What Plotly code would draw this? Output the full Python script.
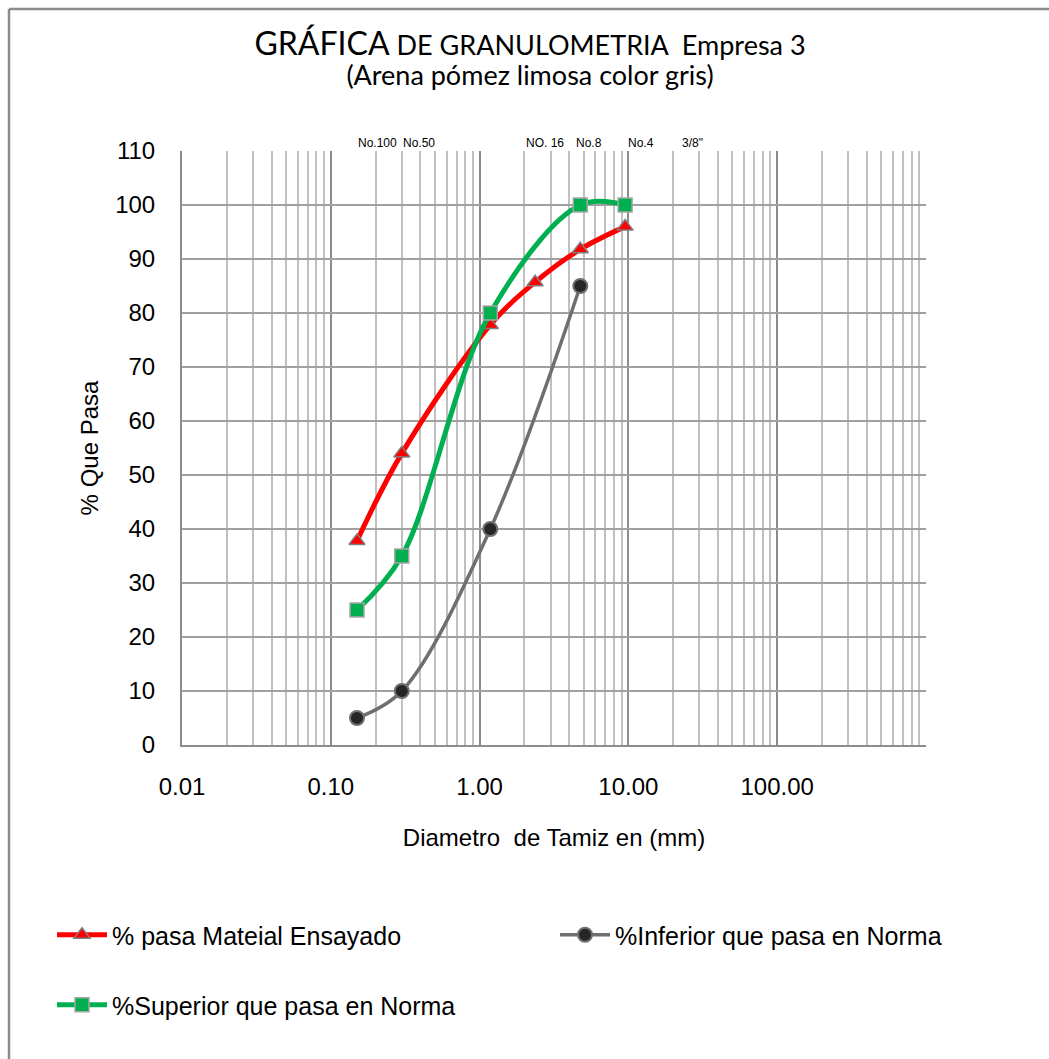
import plotly.graph_objects as go
import math

# ---- data ----
sieve_mm = [0.15, 0.30, 1.18, 2.36, 4.75, 9.50]
pasa_material = [37.8, 54.0, 77.8, 85.7, 91.8, 96.0]

superior_x = [0.15, 0.30, 1.18, 4.75, 9.50]
superior = [25, 35, 80, 100, 100]

inferior_x = [0.15, 0.30, 1.18, 4.75]
inferior = [5, 10, 40, 85]

sieve_names = ["No.100", "No.50", "NO. 16", "No.8", "No.4", "3/8\""]
sieve_label_at = [0.207, 0.392, 2.73, 5.47, 12.2, 26.9]

x_tickvals = [0.01, 0.1, 1, 10, 100, 1000]
x_ticktext = ["0.01", "0.10", "1.00", "10.00", "100.00", ""]
y_tickvals = list(range(0, 111, 10))

W, H = 1049, 1059
L, R, T, B = 182, 123, 151, 314
pw, ph = W - L - R, H - T - B

def px_x(p):
    return (p - L) / pw

def px_y(p):
    return (H - B - p) / ph

ARIAL = "Liberation Sans, Arial"

fig = go.Figure()

fig.add_trace(go.Scatter(
    x=sieve_mm, y=pasa_material, name="% pasa Mateial Ensayado",
    mode="lines+markers", line=dict(color="#ff0000", width=5, shape="spline"),
    marker=dict(symbol="triangle-up", size=14, color="#ff0000",
                line=dict(color="#7f7f7f", width=1.5)),
    legend="legend"))

fig.add_trace(go.Scatter(
    x=inferior_x, y=inferior, name="%Inferior que pasa en Norma",
    mode="lines+markers", line=dict(color="#6f6f6f", width=3.5, shape="spline"),
    marker=dict(symbol="circle", size=14, color="#262626",
                line=dict(color="#6f6f6f", width=2)),
    legend="legend2"))

fig.add_trace(go.Scatter(
    x=superior_x, y=superior, name="%Superior que pasa en Norma",
    mode="lines+markers", line=dict(color="#00b050", width=5, shape="spline"),
    marker=dict(symbol="square", size=14, color="#00b050",
                line=dict(color="#a6a6a6", width=1.5)),
    legend="legend3"))

annotations = []
for name, xv in zip(sieve_names, sieve_label_at):
    annotations.append(dict(x=math.log10(xv), y=px_y(143), xref="x", yref="paper",
                            xanchor="center", yanchor="middle",
                            text=name, showarrow=False,
                            font=dict(family=ARIAL, size=12, color="#000")))

shapes = [
    dict(type="line", xref="paper", yref="paper", x0=px_x(9), x1=px_x(1049),
         y0=px_y(9), y1=px_y(9), line=dict(color="#8c8c8c", width=2.5)),
    dict(type="line", xref="paper", yref="paper", x0=px_x(9), x1=px_x(9),
         y0=px_y(9), y1=px_y(1059), line=dict(color="#8c8c8c", width=2.5)),
]

legend_common = dict(orientation="h", bgcolor="rgba(0,0,0,0)",
                     font=dict(family=ARIAL, size=25, color="#000"),
                     xanchor="left", yanchor="middle", itemwidth=50)

fig.update_layout(
    width=W, height=H,
    showlegend=True,
    margin=dict(l=L, r=R, t=T, b=B, autoexpand=False),
    paper_bgcolor="white", plot_bgcolor="white",
    title=dict(
        text="<span style='font-size:32px'>GRÁFICA</span>"
             "<span style='font-size:27px'> DE GRANULOMETRIA\u00a0 Empresa 3</span>"
             "<br><span style='font-size:27px'>(Arena pómez limosa color gris)</span>",
        x=530 / W, xanchor="center",
        y=1 - 55 / H, yanchor="middle",
        font=dict(family="Lato, Open Sans", size=23, color="#000")),
    xaxis=dict(
        type="log", range=[-2, 3],
        tickvals=x_tickvals, ticktext=x_ticktext,
        tickfont=dict(family=ARIAL, size=24, color="#000"),
        ticks="", ticklabelstandoff=19,
        showgrid=True, gridcolor="#8c8c8c", gridwidth=1.5,
        minor=dict(dtick="D1", showgrid=True, gridcolor="#c0c0c0", gridwidth=1.5, ticks=""),
        showline=True, linecolor="#8c8c8c", linewidth=2,
        zeroline=False,
        title=dict(text="Diametro\u00a0 de Tamiz en (mm)", standoff=30,
                   font=dict(family=ARIAL, size=24, color="#000")),
    ),
    yaxis=dict(
        range=[0, 110], tickvals=y_tickvals,
        tickfont=dict(family=ARIAL, size=24, color="#000"),
        ticks="", ticklabelstandoff=20,
        showgrid=True, gridcolor="#a0a0a0", gridwidth=1.5,
        showline=True, linecolor="#8c8c8c", linewidth=2,
        zeroline=False,
        title=dict(text="% Que Pasa", standoff=10,
                   font=dict(family=ARIAL, size=24, color="#000")),
    ),
    legend=dict(x=px_x(52), y=px_y(935), **legend_common),
    legend2=dict(x=px_x(555), y=px_y(935), **legend_common),
    legend3=dict(x=px_x(52), y=px_y(1005), **legend_common),
    annotations=annotations,
    shapes=shapes,
)

fig.write_html("out.html")
